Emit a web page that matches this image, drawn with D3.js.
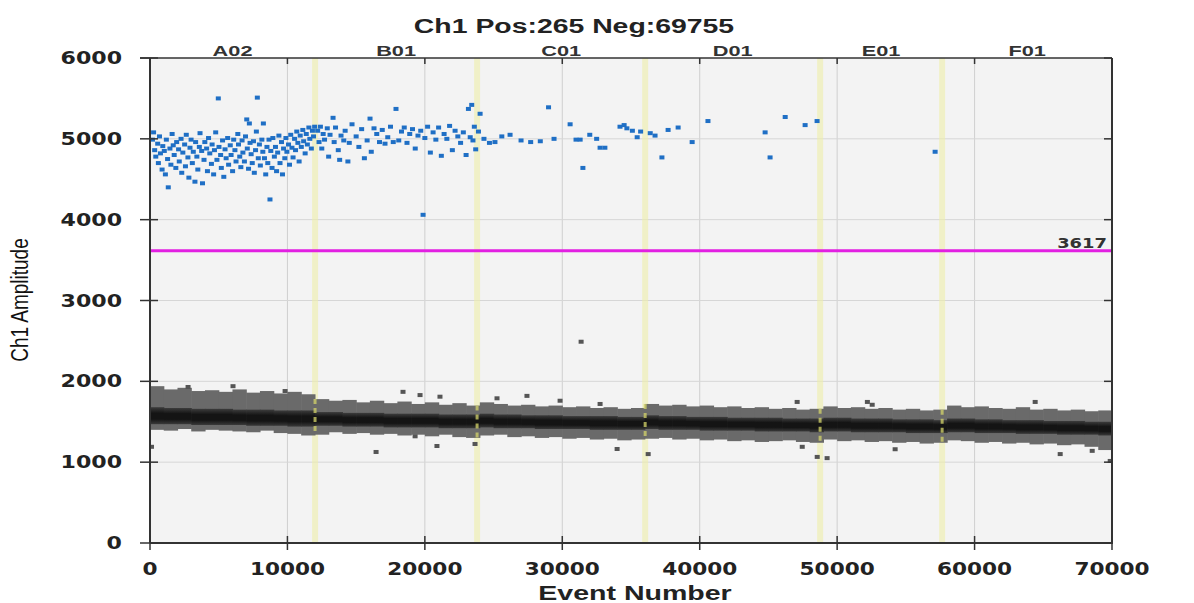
<!DOCTYPE html>
<html>
<head>
<meta charset="utf-8">
<script src="https://cdn.jsdelivr.net/npm/d3@7"></script>
<style>
  body { margin: 0; background: #fff; }
  svg { display: block; }
</style>
</head>
<body>
<div id="chart"></div>
<script>
// ---- data ----
const titleText = "Ch1 Pos:265 Neg:69755"
const xLabel = "Event Number"
const yLabel = "Ch1 Amplitude"
const wellNames = ["A02", "B01", "C01", "D01", "E01", "F01"]
const wellEdges = [0, 12010, 23800, 36030, 48760, 57640, 70020]
const threshold = 3617
const xTicks = [0, 10000, 20000, 30000, 40000, 50000, 60000, 70000]
const yTicks = [0, 1000, 2000, 3000, 4000, 5000, 6000]

// positive droplets [event, amplitude]
const posA02 = [[180,4990],[260,5080],[340,4860],[420,4780],[560,4940],[610,4700],[690,5030],[760,4820],[880,4620],[930,4910],[1040,4850],[1120,4560],[1190,4990],[1280,4750],[1330,4400],[1450,4880],[1520,4680],[1610,5060],[1690,4920],[1760,4800],[1880,4640],[1940,4960],[2080,4870],[2130,4720],[2260,5000],[2310,4580],[2390,4830],[2520,4930],[2580,4660],[2640,5050],[2760,4770],[2830,4520],[2910,4890],[2990,4990],[3080,4700],[3150,4840],[3270,4470],[3320,4960],[3410,4780],[3480,4620],[3590,4900],[3640,5070],[3760,4850],[3820,4450],[3930,4740],[3990,4960],[4120,4880],[4180,4600],[4260,5010],[4350,4820],[4470,4690],[4520,4930],[4630,4560],[4690,4860],[4780,5080],[4870,4740],[4970,5500],[5020,4900],[5140,4800],[5190,4640],[5280,4980],[5370,4530],[5460,4870],[5540,4760],[5650,5010],[5720,4680],[5840,4920],[5900,4800],[6010,4600],[6090,4990],[6180,4860],[6260,4720],[6390,5060],[6440,4930],[6530,4780],[6610,4650],[6700,4980],[6760,4830],[6870,4720],[6950,5030],[7040,5240],[7080,4880],[7170,4630],[7230,5190],[7280,4950],[7360,4810],[7440,4700],[7530,4970],[7590,4580],[7680,4860],[7740,5090],[7810,5510],[7880,4760],[7960,4930],[8030,4670],[8140,4990],[8210,4840],[8250,5190],[8330,4760],[8420,4560],[8510,4900],[8570,4700],[8660,4990],[8730,4250],[8790,4850],[8880,4640],[8940,5010],[9050,4780],[9130,4900],[9210,4600],[9290,4830],[9380,5040],[9460,4700],[9570,4960],[9640,4560],[9720,4880],[9810,4760],[9890,5010],[9960,4840],[10080,4930],[10150,4680],[10240,5050],[10330,4890],[10410,4770],[10520,5000],[10590,4860],[10680,5090],[10760,4950],[10850,4720],[10930,5040],[11010,4900],[11120,5110],[11180,4970],[11290,4820],[11370,5060],[11450,4930],[11560,5140],[11630,5000],[11740,4880],[11820,5100],[11900,5030],[11980,5150]]
const posB01 = [[12200,5100],[12300,4960],[12400,5150],[12500,4880],[12600,5060],[12700,4990],[12900,5130],[13000,4780],[13100,5050],[13320,5260],[13400,4960],[13500,5140],[13700,4860],[13800,4740],[13900,5040],[14100,4980],[14200,5100],[14400,4720],[14500,4950],[14700,5180],[15000,5030],[15200,4900],[15400,5120],[15600,4760],[15800,4980],[16010,5250],[16100,4840],[16300,5130],[16500,5060],[16700,4960],[16900,5110],[17100,4940],[17300,5020],[17500,5150],[17700,4960],[17900,5370],[18100,4980],[18300,5090],[18500,5140],[18700,4950],[18900,5060],[19100,5120],[19300,4880],[19500,5040],[19700,5100],[19870,4060],[20000,5010],[20200,5150],[20400,4830],[20600,5080],[20800,4990],[21000,5140],[21200,4790],[21400,5060],[21600,5000],[21800,5160],[22000,4860],[22200,5100],[22400,5030],[22600,4950],[22800,5080],[23000,4800],[23170,5370],[23300,5020],[23410,5420],[23500,4980],[23600,5150],[23700,4870]]
const posC01 = [[23900,5090],[24020,5310],[24300,5000],[24700,4950],[25100,4960],[25600,5030],[26200,5050],[27000,4980],[27700,4960],[28400,4970],[29000,5390],[29400,5000],[30570,5180],[31000,4990],[31300,4990],[31500,4640],[32000,5050],[32500,5000],[32750,4890],[33100,4890],[34200,5150],[34500,5170],[34700,5130],[35100,5100],[35450,5020],[35700,5090]]
const posD01 = [[36400,5070],[36750,5040],[37250,4770],[37700,5110],[38430,5140],[39450,4960],[40600,5220],[44760,5080],[45120,4770],[46220,5270],[47670,5170],[48540,5220]]
const posE01 = [[57130,4840]]
const posF01 = []

// negative droplet band, one value per 1000 events
const negBinSize = 1000
const negOuterHi = [1940,1900,1920,1880,1890,1870,1900,1860,1880,1850,1870,1840,
  1780,1760,1770,1740,1760,1730,1750,1720,1740,1710,1730,1700,
  1740,1720,1700,1710,1690,1700,1680,1690,1670,1680,1660,1670,
  1720,1700,1710,1690,1700,1680,1690,1670,1680,1660,1670,1650,1660,
  1690,1670,1680,1660,1670,1650,1660,1640,1650,
  1700,1680,1690,1670,1660,1680,1650,1660,1640,1650,1630,1640]
const negCoreHi = [1680,1670,1670,1660,1660,1660,1650,1650,1650,1640,1640,1640,
  1620,1620,1610,1610,1610,1600,1600,1600,1600,1590,1590,1590,
  1600,1590,1590,1580,1580,1580,1570,1570,1570,1570,1560,1560,
  1580,1570,1570,1560,1560,1560,1550,1550,1550,1550,1540,1540,1540,
  1550,1550,1540,1540,1540,1530,1530,1530,1520,
  1540,1540,1530,1530,1520,1520,1520,1510,1510,1510,1500,1500]
const negCoreLo = [1470,1470,1470,1460,1460,1460,1460,1450,1450,1450,1440,1440,
  1450,1450,1440,1440,1440,1430,1430,1430,1430,1420,1420,1420,
  1430,1420,1420,1420,1410,1410,1410,1410,1400,1400,1400,1400,
  1410,1400,1400,1400,1390,1390,1390,1390,1380,1380,1380,1380,1370,
  1380,1380,1370,1370,1370,1370,1360,1360,1360,
  1370,1370,1360,1360,1360,1350,1350,1350,1340,1340,1340,1330]
const negOuterLo = [1400,1390,1410,1380,1400,1390,1380,1370,1390,1360,1350,1330,
  1340,1370,1350,1360,1340,1350,1330,1340,1320,1340,1310,1300,
  1330,1340,1310,1320,1300,1310,1290,1300,1280,1290,1270,1280,
  1290,1300,1280,1290,1270,1280,1260,1270,1250,1260,1270,1250,1240,
  1280,1260,1270,1250,1260,1240,1250,1230,1240,
  1270,1260,1240,1250,1230,1240,1220,1230,1210,1220,1190,1150]
const negOutliers = [[110,1190],[2770,1930],[6040,1940],[9830,1880],[16450,1126],[18410,1870],[19290,1320],[19650,1830],[20880,1200],[21100,1810],[23650,1225],[25250,1790],[27430,1820],[29840,1760],[31370,2490],[32750,1720],[33990,1163],[36250,1100],[47090,1745],[47460,1190],[48550,1065],[49270,1050],[52200,1745],[52550,1710],[54220,1160],[64410,1745],[66230,1100],[68560,1140],[69870,1015]]

// ---- chart ----
const margin = { top: 58, right: 82, bottom: 60, left: 150 }
const width = 1194 - margin.left - margin.right
const height = 603 - margin.top - margin.bottom

const svg = d3.select("#chart").append("svg")
    .attr("width", 1194)
    .attr("height", 603)
const g = svg.append("g")
    .attr("transform", "translate(" + margin.left + "," + margin.top + ")")

const x = d3.scaleLinear().domain([0, 70000]).range([0, width])
const y = d3.scaleLinear().domain([0, 6000]).range([height, 0])

const defs = svg.append("defs")
const coreGrad = defs.append("linearGradient").attr("id", "core").attr("x1", 0).attr("x2", 0).attr("y1", 0).attr("y2", 1)
coreGrad.append("stop").attr("offset", "0%").attr("stop-color", "#3c3c3c")
coreGrad.append("stop").attr("offset", "35%").attr("stop-color", "#141414")
coreGrad.append("stop").attr("offset", "70%").attr("stop-color", "#141414")
coreGrad.append("stop").attr("offset", "100%").attr("stop-color", "#3a3a3a")

// plot background
g.append("rect").attr("width", width).attr("height", height).attr("fill", "#f3f3f3")

// grid
g.selectAll(".vgrid").data(xTicks.slice(1, -1)).enter().append("line")
    .attr("x1", d => x(d)).attr("x2", d => x(d))
    .attr("y1", 0).attr("y2", height)
    .attr("stroke", "#cfcfcf").attr("stroke-width", 1)
g.selectAll(".hgrid").data(yTicks.slice(1, -1)).enter().append("line")
    .attr("x1", 0).attr("x2", width)
    .attr("y1", d => y(d)).attr("y2", d => y(d))
    .attr("stroke", "#d6d6d6").attr("stroke-width", 1)

// well boundaries
const bounds = wellEdges.slice(1, -1)
g.selectAll(".bound").data(bounds).enter().append("rect")
    .attr("x", d => x(d) - 3).attr("width", 6)
    .attr("y", 0).attr("height", height)
    .attr("fill", "#eeeeaa").attr("opacity", 0.6)

// negative band
const bins = d3.range(negOuterHi.length)
g.selectAll(".outer").data(bins).enter().append("rect")
    .attr("x", i => x(i * negBinSize))
    .attr("width", x(negBinSize) - x(0) + 0.6)
    .attr("y", i => y(negOuterHi[i]))
    .attr("height", i => y(negOuterLo[i]) - y(negOuterHi[i]))
    .attr("fill", "#6a6a6a")
g.selectAll(".core").data(bins).enter().append("rect")
    .attr("x", i => x(i * negBinSize))
    .attr("width", x(negBinSize) - x(0) + 0.6)
    .attr("y", i => y(negCoreHi[i]))
    .attr("height", i => y(negCoreLo[i]) - y(negCoreHi[i]))
    .attr("fill", "url(#core)")

// yellow dashes where boundaries cross the band
g.selectAll(".bdash").data(bounds).enter().append("line")
    .attr("x1", d => x(d)).attr("x2", d => x(d))
    .attr("y1", d => y(negOuterHi[Math.floor(d / negBinSize)]))
    .attr("y2", d => y(negOuterLo[Math.floor(d / negBinSize)]))
    .attr("stroke", "#d4d46a").attr("stroke-width", 3)
    .attr("stroke-dasharray", "5,4").attr("opacity", 0.75)

g.selectAll(".negout").data(negOutliers).enter().append("rect")
    .attr("x", d => x(d[0]) - 2.5).attr("y", d => y(d[1]) - 2)
    .attr("width", 5).attr("height", 4)
    .attr("fill", "#555")

// positive droplets
const positives = [].concat(posA02, posB01, posC01, posD01, posE01, posF01)
g.selectAll(".pos").data(positives).enter().append("rect")
    .attr("x", d => x(d[0]) - 2.5).attr("y", d => y(d[1]) - 2)
    .attr("width", 5).attr("height", 4)
    .attr("fill", "#1f6fc5")

// threshold
g.append("line")
    .attr("x1", 0).attr("x2", width)
    .attr("y1", y(threshold)).attr("y2", y(threshold))
    .attr("stroke", "#e21fe2").attr("stroke-width", 3)
g.append("text")
    .attr("transform", "translate(" + (width - 5) + "," + (y(threshold) - 3) + ") scale(1.28,1)")
    .attr("text-anchor", "end")
    .style("font-family", "DejaVu Sans").style("font-weight", "bold").style("font-size", "14px")
    .attr("fill", "#333")
    .text(threshold)

// frame
g.append("line").attr("x1", -10).attr("x2", width).attr("y1", 0).attr("y2", 0).attr("stroke", "#333").attr("stroke-width", 1.5)
g.append("line").attr("x1", 0).attr("x2", width + 1).attr("y1", height).attr("y2", height).attr("stroke", "#333").attr("stroke-width", 2)
g.append("line").attr("x1", 0).attr("x2", 0).attr("y1", 0).attr("y2", height).attr("stroke", "#333").attr("stroke-width", 2)
g.append("line").attr("x1", width).attr("x2", width).attr("y1", 0).attr("y2", height).attr("stroke", "#333").attr("stroke-width", 2)

// ticks
g.selectAll(".ytick").data(yTicks).enter().append("line")
    .attr("x1", -10).attr("x2", 8)
    .attr("y1", d => y(d)).attr("y2", d => y(d))
    .attr("stroke", "#333").attr("stroke-width", 1.5)
g.selectAll(".ytickr").data(yTicks).enter().append("line")
    .attr("x1", width - 8).attr("x2", width)
    .attr("y1", d => y(d)).attr("y2", d => y(d))
    .attr("stroke", "#333").attr("stroke-width", 1.5)
g.selectAll(".xtick").data(xTicks).enter().append("line")
    .attr("x1", d => x(d)).attr("x2", d => x(d))
    .attr("y1", height - 7).attr("y2", height + 7)
    .attr("stroke", "#333").attr("stroke-width", 1.5)
g.selectAll(".xtickt").data(xTicks).enter().append("line")
    .attr("x1", d => x(d)).attr("x2", d => x(d))
    .attr("y1", 0).attr("y2", 6)
    .attr("stroke", "#333").attr("stroke-width", 1.5)

// tick labels
g.selectAll(".ylab").data(yTicks).enter().append("text")
    .attr("transform", d => "translate(-28," + y(d) + ") scale(1.3,1)")
    .attr("text-anchor", "end").attr("dy", "0.36em")
    .style("font-family", "DejaVu Sans").style("font-weight", "bold").style("font-size", "17px")
    .attr("fill", "#222")
    .text(d => d)
g.selectAll(".xlab").data(xTicks).enter().append("text")
    .attr("transform", d => "translate(" + x(d) + "," + (height + 32) + ") scale(1.27,1)")
    .attr("text-anchor", "middle")
    .style("font-family", "DejaVu Sans").style("font-weight", "bold").style("font-size", "17px")
    .attr("fill", "#222")
    .text(d => d)

// well labels
g.selectAll(".well").data(wellNames).enter().append("text")
    .attr("transform", (d, i) => "translate(" + x((wellEdges[i] + wellEdges[i + 1]) / 2) + ",-2) scale(1.45,1)")
    .attr("text-anchor", "middle")
    .style("font-family", "Liberation Sans, Arial, sans-serif").style("font-weight", "bold").style("font-size", "15px")
    .attr("fill", "#333")
    .text(d => d)

// title and axis titles
svg.append("text")
    .attr("transform", "translate(574,33) scale(1.42,1)")
    .attr("text-anchor", "middle")
    .style("font-family", "Liberation Sans, Arial, sans-serif").style("font-weight", "bold").style("font-size", "20px")
    .attr("fill", "#222")
    .text(titleText)
svg.append("text")
    .attr("transform", "translate(635,600) scale(1.36,1)")
    .attr("text-anchor", "middle")
    .style("font-family", "Liberation Sans, Arial, sans-serif").style("font-weight", "bold").style("font-size", "21px")
    .attr("fill", "#222")
    .text(xLabel)
svg.append("text")
    .attr("transform", "translate(28,300) scale(1.3,1) rotate(-90)")
    .attr("text-anchor", "middle")
    .style("font-family", "Liberation Sans, Arial, sans-serif").style("font-size", "19px")
    .attr("fill", "#111")
    .text(yLabel)
</script>
</body>
</html>
